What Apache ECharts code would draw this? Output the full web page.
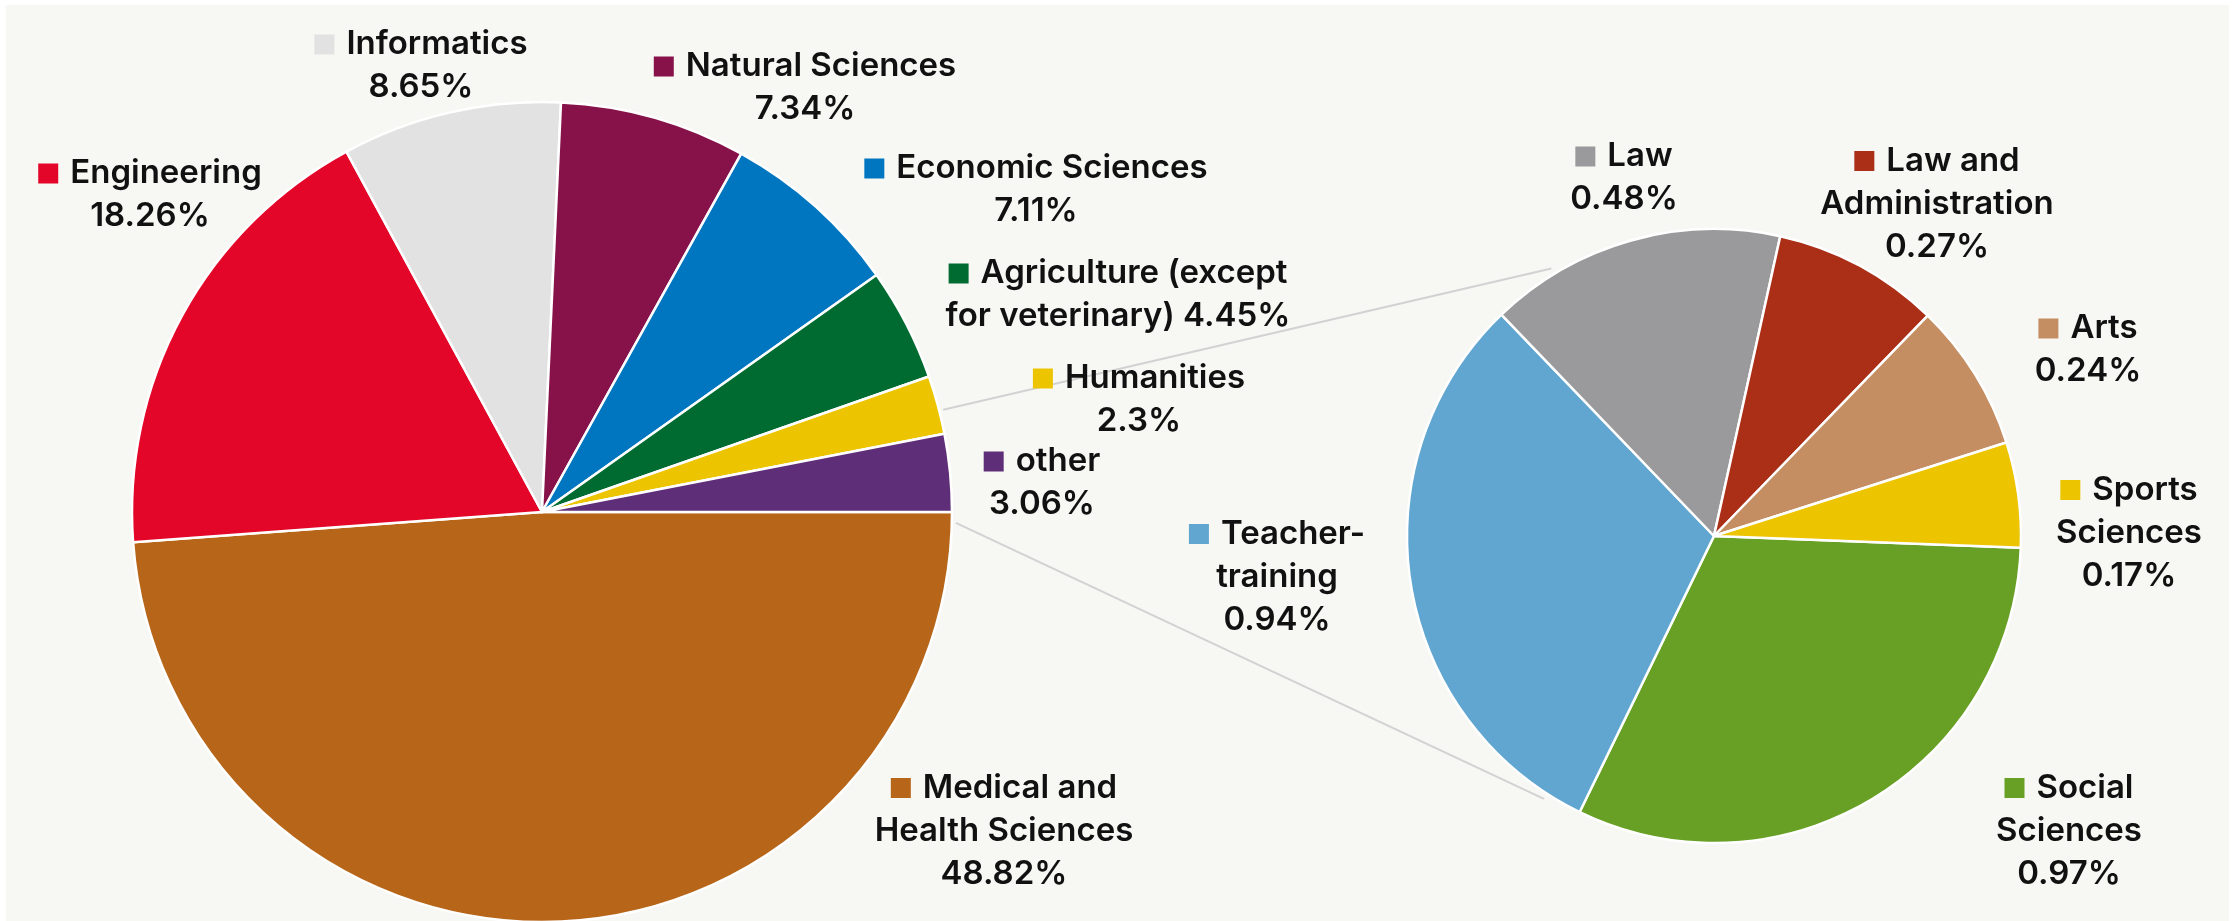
<!DOCTYPE html>
<html>
<head>
<meta charset="utf-8">
<script src="https://cdn.jsdelivr.net/npm/echarts@6/dist/echarts.min.js"></script>
<style>
html,body{margin:0;padding:0;background:#ffffff;}
#chart{width:2238px;height:921px;}
</style>
</head>
<body>
<div id="chart"></div>
<script>
// ---------- data ----------
const mainNames = ['Medical and\nHealth Sciences', 'Engineering', 'Informatics', 'Natural Sciences', 'Economic Sciences', 'Agriculture (except\nfor veterinary)', 'Humanities', 'other'];
const mainValues = [48.82, 18.26, 8.65, 7.34, 7.11, 4.45, 2.3, 3.06];
const subNames = ['Social\nSciences', 'Teacher-\ntraining', 'Law', 'Law and\nAdministration', 'Arts', 'Sports\nSciences'];
const subValues = [0.97, 0.94, 0.48, 0.27, 0.24, 0.17];

// ---------- styles / layout ----------
const mainColors = ['#b76619', '#e30629', '#e2e2e2', '#87124a', '#0076c0', '#006b31', '#ecc400', '#5e2e78'];
const subColors = ['#67a024', '#60a6d1', '#9a999b', '#ab2e17', '#c48e62', '#ecc400'];
const pctInline = { 'Agriculture (except\nfor veterinary)': true };

const mainCenter = [542, 512], mainR = 410;
const subCenter = [1714, 536], subR = 307;
const mainLabelOffset = [[462, 319], [-392, -317], [-121, -446], [263, -424], [494, -322], [576, -217], [597, -112], [500, -29]];
const subLabelOffset = [[355, 295], [-437, 41], [-90, -358], [223, -332], [374, -186], [415, -3]];

const FONT = 'Inter';
const FS = 33;
const LH = 43;

function buildRich(colors) {
  const rich = {
    n: { fontFamily: FONT, fontSize: FS, fontWeight: 600, color: '#111', lineHeight: LH, align: 'center' },
    g: { width: 12, height: 10, align: 'center', lineHeight: LH }
  };
  colors.forEach((c, i) => {
    rich['m' + i] = { width: 20, height: 20, backgroundColor: c, align: 'center', lineHeight: LH };
  });
  return rich;
}
function fmt(p) {
  const lines = p.name.split('\n');
  const pct = p.value + '%';
  const out = [];
  lines.forEach((ln, i) => {
    let txt = ln;
    if (i === lines.length - 1 && pctInline[p.name]) txt += ' ' + pct;
    out.push((i === 0 ? '{m' + p.dataIndex + '|}{g|}' : '') + '{n|' + txt + '}');
  });
  if (!pctInline[p.name]) out.push('{n|' + pct + '}');
  return out.join('\n');
}
function layoutFor(center, offsets) {
  return function (params) {
    const o = offsets[params.dataIndex];
    return { x: center[0] + o[0], y: center[1] + o[1], align: 'center', verticalAlign: 'middle' };
  };
}

// connector lines (angles in degrees, clockwise from 3 o'clock)
const connMainAngles = [345.7, 1.5];
const connSubAngles = [238.7, 122.9];
function polar(c, r, deg) {
  const a = deg * Math.PI / 180;
  return [c[0] + r * Math.cos(a), c[1] + r * Math.sin(a)];
}
const connectors = connMainAngles.map((a, i) => {
  const p1 = polar(mainCenter, mainR + 4, a);
  const p2 = polar(subCenter, subR + 6, connSubAngles[i]);
  return {
    type: 'line', z: 1,
    shape: { x1: p1[0], y1: p1[1], x2: p2[0], y2: p2[1] },
    style: { stroke: '#d2d2d2', lineWidth: 2 }
  };
});

const chart = echarts.init(document.getElementById('chart'), null, { renderer: 'canvas' });
chart.setOption({
  backgroundColor: '#ffffff',
  animation: false,
  graphic: [
    { type: 'rect', z: -10, shape: { x: 6, y: 5, width: 2223, height: 920 }, style: { fill: '#f7f8f4' } }
  ].concat(connectors),
  series: [
    {
      type: 'pie',
      center: mainCenter,
      radius: mainR,
      startAngle: 0,
      clockwise: true,
      avoidLabelOverlap: false,
      itemStyle: { borderColor: '#ffffff', borderWidth: 2.5 },
      label: { show: true, position: 'outside', formatter: fmt, rich: buildRich(mainColors) },
      labelLine: { show: false },
      labelLayout: layoutFor(mainCenter, mainLabelOffset),
      data: mainNames.map((n, i) => ({ name: n, value: mainValues[i], itemStyle: { color: mainColors[i] } }))
    },
    {
      type: 'pie',
      center: subCenter,
      radius: subR,
      startAngle: -2.2,
      clockwise: true,
      avoidLabelOverlap: false,
      itemStyle: { borderColor: '#ffffff', borderWidth: 2.5 },
      label: { show: true, position: 'outside', formatter: fmt, rich: buildRich(subColors) },
      labelLine: { show: false },
      labelLayout: layoutFor(subCenter, subLabelOffset),
      data: subNames.map((n, i) => ({ name: n, value: subValues[i], itemStyle: { color: subColors[i] } }))
    }
  ]
});
</script>
</body>
</html>
